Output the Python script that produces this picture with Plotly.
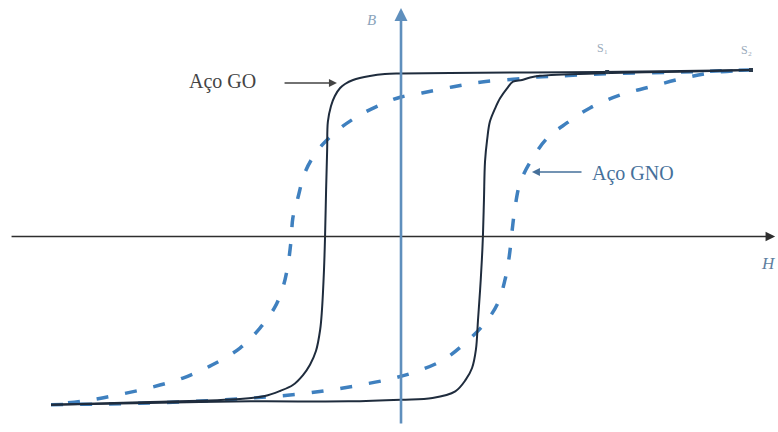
import plotly.graph_objects as go

# Hysteresis loops, B versus H (arbitrary units, saturation at B = ±1)
# Grain-oriented steel (Aço GO): ascending and descending branches
go_up_h = [-10.0, -7.2, -4.3, -1.5, 0.0, 0.9, 1.55, 1.85, 2.03, 2.14, 2.2, 2.26, 2.31, 2.34,
           2.37, 2.4, 2.46, 2.54, 2.69, 2.83, 3.03, 3.2, 3.46, 3.69, 3.97, 5.7, 8.0, 10.0]
go_up_b = [-1.01, -1.0, -0.99, -0.99, -0.98, -0.97, -0.93, -0.86, -0.79, -0.68, -0.5, -0.32, -0.14, 0.0,
           0.22, 0.45, 0.58, 0.69, 0.77, 0.83, 0.89, 0.93, 0.94, 0.955, 0.965, 0.98, 0.99, 1.0]
go_down_h = [10.0, 8.0, 5.7, 1.4, 0.0, -0.46, -0.89, -1.37, -1.6, -1.74, -1.89, -2.0, -2.09, -2.11,
             -2.14, -2.17, -2.2, -2.26, -2.31, -2.43, -2.6, -2.8, -3.09, -3.46, -3.89, -4.6, -7.17, -10.0]
go_down_b = [1.0, 0.994, 0.988, 0.982, 0.979, 0.976, 0.964, 0.94, 0.916, 0.892, 0.844, 0.784, 0.688, 0.52,
             0.28, 0.0, -0.2, -0.447, -0.56, -0.688, -0.77, -0.832, -0.892, -0.928, -0.958, -0.976, -0.994, -1.01]

# Non-oriented steel (Aço GNO): ascending and descending branches
gno_up_h = [-10.0, -7.17, -5.17, -3.86, -2.89, -2.03, -1.17, -0.31, 0.4, 1.2, 1.83, 2.4, 2.77, 2.97,
            3.09, 3.17, 3.26, 3.4, 3.69, 4.17, 4.74, 5.4, 6.26, 7.11, 7.97, 8.83, 10.0]
gno_up_b = [-1.01, -1.0, -0.982, -0.964, -0.946, -0.922, -0.892, -0.856, -0.814, -0.742, -0.64, -0.52, -0.399, -0.261,
            -0.123, 0.027, 0.177, 0.321, 0.447, 0.589, 0.682, 0.772, 0.85, 0.898, 0.946, 0.982, 1.0]
gno_down_h = [10.0, 7.97, 5.69, 4.54, 3.89, 3.31, 2.31, 1.46, 0.6, 0.0, -0.4, -1.17, -1.8, -2.37, -2.74,
              -2.94, -3.09, -3.14, -3.23, -3.37, -3.6, -4.03, -4.6, -5.4, -6.23, -7.09, -7.97, -8.89, -10.0]
gno_down_b = [1.0, 0.988, 0.976, 0.964, 0.958, 0.946, 0.928, 0.898, 0.862, 0.838, 0.808, 0.73, 0.64, 0.52, 0.387,
              0.237, 0.111, -0.021, -0.171, -0.303, -0.423, -0.55, -0.67, -0.772, -0.85, -0.904, -0.946, -0.982, -1.01]

# Saturation points marked on the upper branch
sat_labels = ["S₁", "S₂"]
sat_h = [5.89, 10.0]
sat_b = [0.988, 1.0]

GO_COLOR = "#1f2c3d"
GNO_COLOR = "#3f80bf"
SERIF = "Liberation Serif, Times New Roman, serif"

fig = go.Figure()

for h, b in ((gno_up_h, gno_up_b), (gno_down_h, gno_down_b)):
    fig.add_trace(go.Scatter(x=h, y=b, mode="lines", line_shape="spline",
                             line=dict(color=GNO_COLOR, width=3.5, dash="12px,17px"),
                             hoverinfo="skip", showlegend=False))

for h, b in ((go_up_h, go_up_b), (go_down_h, go_down_b)):
    fig.add_trace(go.Scatter(x=h, y=b, mode="lines", line_shape="spline",
                             line=dict(color=GO_COLOR, width=2),
                             hoverinfo="skip", showlegend=False))

fig.add_trace(go.Scatter(x=sat_h, y=sat_b, mode="markers",
                         marker=dict(symbol="square", size=4, color="#2a3a4c"),
                         hoverinfo="skip", showlegend=False))

annotations = []

# Axes drawn as arrows through the origin
annotations.append(dict(x=10.69, y=0.0, ax=-11.17, ay=0.0, xref="x", yref="y", axref="x", ayref="y",
                        showarrow=True, arrowhead=2, arrowsize=1.2, arrowwidth=1.6,
                        arrowcolor="#2e2e2e", text=""))
annotations.append(dict(x=0.0, y=1.372, ax=0.0, ay=-1.132, xref="x", yref="y", axref="x", ayref="y",
                        showarrow=True, arrowhead=2, arrowsize=1.0, arrowwidth=2.6,
                        arrowcolor="#5f8fbd", text=""))

# Axis names
annotations.append(dict(x=-0.83, y=1.30, xref="x", yref="y", text="<i>B</i>", showarrow=False,
                        font=dict(family=SERIF, size=15, color="#8aa3bb")))
annotations.append(dict(x=10.51, y=-0.165, xref="x", yref="y", text="<i>H</i>", showarrow=False,
                        font=dict(family=SERIF, size=17, color="#5f7f9f")))

# Saturation point labels
for lab, h, b in zip(sat_labels, sat_h, [1.132, 1.12]):
    annotations.append(dict(x=h - 0.12, y=b, xref="x", yref="y", text=lab, showarrow=False,
                            font=dict(family=SERIF, size=12, color="#9aaabb")))

# Curve labels with pointer arrows
annotations.append(dict(x=-5.09, y=0.928, xref="x", yref="y", text="Aço GO", showarrow=False,
                        font=dict(family=SERIF, size=20, color="#444444")))
annotations.append(dict(x=-1.83, y=0.922, ax=-3.37, ay=0.922, xref="x", yref="y", axref="x", ayref="y",
                        showarrow=True, arrowhead=2, arrowsize=1.0, arrowwidth=1.6,
                        arrowcolor="#444444", text=""))
annotations.append(dict(x=5.4, y=0.381, xref="x", yref="y", text="Aço GNO", showarrow=False,
                        xanchor="left", font=dict(family=SERIF, size=20, color="#46709a")))
annotations.append(dict(x=3.74, y=0.387, ax=5.2, ay=0.387, xref="x", yref="y", axref="x", ayref="y",
                        showarrow=True, arrowhead=2, arrowsize=1.0, arrowwidth=1.6,
                        arrowcolor="#46709a", text=""))

fig.update_layout(
    width=778, height=432,
    margin=dict(l=0, r=0, t=0, b=0),
    paper_bgcolor="white", plot_bgcolor="white",
    xaxis=dict(range=[-11.457, 10.771], visible=False, fixedrange=True),
    yaxis=dict(range=[-1.1742, 1.4204], visible=False, fixedrange=True),
    annotations=annotations,
)

fig.write_html("out.html")
